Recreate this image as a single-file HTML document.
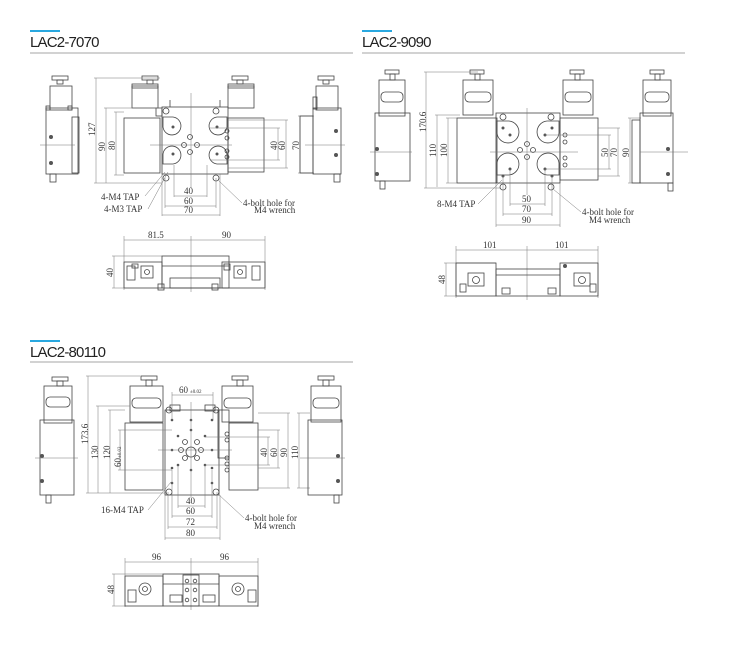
<!DOCTYPE html>
<html><head><meta charset="utf-8"><style>
html,body{margin:0;padding:0;background:#fff;width:750px;height:666px;overflow:hidden}
svg{display:block}
.t{font-family:"Liberation Sans",sans-serif;font-size:15px;fill:#222;letter-spacing:-0.8px}
.d{font-family:"Liberation Serif",serif;font-size:9px;fill:#333}
.s{fill:none;stroke:#444;stroke-width:0.8}
.k{fill:none;stroke:#777;stroke-width:0.5}
.h{fill:#555}
</style></head><body>
<svg width="750" height="666" viewBox="0 0 750 666" xmlns="http://www.w3.org/2000/svg">
<rect x="30" y="30" width="30" height="2" fill="#29a8e0"/>
<text class="t" x="30" y="47">LAC2-7070</text>
<line x1="30" y1="53" x2="353" y2="53" stroke="#888" stroke-width="0.8"/>
<rect x="362" y="30" width="30" height="2" fill="#29a8e0"/>
<text class="t" x="362" y="47">LAC2-9090</text>
<line x1="362" y1="53" x2="685" y2="53" stroke="#888" stroke-width="0.8"/>
<rect x="30" y="340" width="30" height="2" fill="#29a8e0"/>
<text class="t" x="30" y="357">LAC2-80110</text>
<line x1="30" y1="362" x2="353" y2="362" stroke="#888" stroke-width="0.8"/>

<!-- ============ 7070 ============ -->
<g>
<rect class="s" x="52" y="76" width="16" height="4"/><rect class="s" x="57" y="80" width="6" height="4"/>
<rect class="s" x="50" y="86" width="22" height="24"/><rect class="s" x="46" y="108" width="32" height="66"/>
<rect class="s" x="46" y="106" width="4" height="4"/><rect class="s" x="68" y="106" width="4" height="4"/>
<rect class="s" x="50" y="174" width="6" height="8"/><rect class="s" x="72" y="117" width="7" height="56"/>
<circle class="h" cx="51" cy="137" r="2"/><circle class="h" cx="51" cy="163" r="2"/>
<line class="k" x1="40" y1="145" x2="75" y2="145"/>
<rect class="s" x="142" y="76" width="16" height="4"/><rect class="s" x="147" y="80" width="6" height="4"/>
<rect class="s" x="132" y="86" width="26" height="22"/><rect class="s" x="132" y="84" width="26" height="4"/>
<rect class="s" x="232" y="76" width="16" height="4"/><rect class="s" x="237" y="80" width="6" height="4"/>
<rect class="s" x="228" y="86" width="26" height="22"/><rect class="s" x="228" y="84" width="26" height="4"/>
<rect class="s" x="124" y="118" width="36" height="55"/><rect class="s" x="228" y="118" width="36" height="54"/>
<rect class="s" x="156" y="108" width="6" height="8"/>
<rect class="s" x="162" y="107" width="66" height="67"/>
<line class="s" x1="170" y1="107" x2="170" y2="100"/><line class="s" x1="220" y1="107" x2="220" y2="100"/>
<path class="s" d="M163 117 L173 117 A9 9 0 1 1 163 127 Z"/>
<path class="s" d="M227 117 L217 117 A9 9 0 1 0 227 127 Z"/>
<path class="s" d="M163 164 L173 164 A9 9 0 1 0 163 154 Z"/>
<path class="s" d="M227 164 L217 164 A9 9 0 1 1 227 154 Z"/>
<circle class="h" cx="173" cy="127" r="1.5"/><circle class="h" cx="217" cy="127" r="1.5"/><circle class="h" cx="173" cy="154" r="1.5"/><circle class="h" cx="217" cy="154" r="1.5"/>
<circle class="s" cx="190" cy="137" r="2.5"/><circle class="s" cx="184" cy="145" r="2.5"/><circle class="s" cx="197" cy="145" r="2.5"/><circle class="s" cx="190" cy="152" r="2.5"/>
<circle class="s" cx="166" cy="111" r="3"/><circle class="s" cx="216" cy="111" r="3"/><circle class="s" cx="166" cy="178" r="3"/><circle class="s" cx="216" cy="178" r="3"/>
<circle class="s" cx="227" cy="131" r="2"/><circle class="s" cx="227" cy="138" r="2"/><circle class="s" cx="227" cy="151" r="2"/><circle class="s" cx="227" cy="157" r="2"/>
<line class="k" x1="191" y1="93" x2="191" y2="188"/><line class="k" x1="150" y1="145" x2="232" y2="145"/>
<line class="k" x1="96" y1="78" x2="96" y2="183"/><line class="k" x1="94" y1="78" x2="160" y2="78"/><line class="k" x1="94" y1="183" x2="162" y2="183"/>
<text class="d" transform="translate(95,136) rotate(-90)" >127</text>
<line class="k" x1="106" y1="108" x2="106" y2="183"/><line class="k" x1="104" y1="108" x2="162" y2="108"/>
<text class="d" transform="translate(105,151) rotate(-90)">90</text>
<line class="k" x1="116" y1="112" x2="116" y2="175"/><line class="k" x1="114" y1="112" x2="124" y2="112"/><line class="k" x1="114" y1="175" x2="124" y2="175"/>
<text class="d" transform="translate(115,150) rotate(-90)">80</text>
<line class="k" x1="210" y1="128" x2="280" y2="128"/><line class="k" x1="210" y1="160" x2="280" y2="160"/><line class="k" x1="278" y1="128" x2="278" y2="160"/>
<text class="d" transform="translate(277,150) rotate(-90)">40</text>
<line class="k" x1="228" y1="120" x2="288" y2="120"/><line class="k" x1="228" y1="168" x2="288" y2="168"/><line class="k" x1="286" y1="120" x2="286" y2="168"/>
<text class="d" transform="translate(285,150) rotate(-90)">60</text>
<line class="k" x1="300" y1="116" x2="300" y2="173"/><line class="k" x1="298" y1="116" x2="314" y2="116"/><line class="k" x1="298" y1="173" x2="314" y2="173"/>
<text class="d" transform="translate(299,150) rotate(-90)">70</text>
<rect class="s" x="318" y="76" width="16" height="4"/><rect class="s" x="323" y="80" width="6" height="4"/>
<rect class="s" x="316" y="86" width="22" height="24"/><rect class="s" x="313" y="108" width="28" height="66"/>
<rect class="s" x="313" y="97" width="4" height="12"/><rect class="s" x="334" y="174" width="6" height="8"/>
<rect class="s" x="300" y="116" width="13" height="57"/>
<circle class="h" cx="336" cy="131" r="2"/><circle class="h" cx="336" cy="155" r="2"/>
<line class="k" x1="305" y1="145" x2="345" y2="145"/>
<line class="k" x1="174" y1="165" x2="174" y2="197"/><line class="k" x1="207" y1="165" x2="207" y2="197"/>
<line class="k" x1="174" y1="196" x2="207" y2="196"/><text class="d" x="184" y="194">40</text>
<line class="k" x1="165" y1="178" x2="165" y2="208"/><line class="k" x1="216" y1="178" x2="216" y2="208"/>
<line class="k" x1="165" y1="206" x2="216" y2="206"/><text class="d" x="184" y="204">60</text>
<line class="k" x1="162" y1="174" x2="162" y2="216"/><line class="k" x1="220" y1="174" x2="220" y2="216"/>
<line class="k" x1="162" y1="215" x2="220" y2="215"/><text class="d" x="184" y="213">70</text>
<text class="d" x="101" y="200">4-M4 TAP</text><line class="k" x1="145" y1="196" x2="165" y2="172"/>
<text class="d" x="104" y="212">4-M3 TAP</text><line class="k" x1="148" y1="209" x2="168" y2="172"/>
<text class="d" x="243" y="206">4-bolt hole for</text><text class="d" x="254" y="213">M4 wrench</text>
<line class="k" x1="242" y1="203" x2="218" y2="180"/>
<line class="k" x1="124" y1="240" x2="265" y2="240"/><line class="k" x1="124" y1="236" x2="124" y2="290"/><line class="k" x1="265" y1="236" x2="265" y2="290"/><line class="k" x1="191" y1="236" x2="191" y2="292"/>
<text class="d" x="148" y="238">81.5</text><text class="d" x="222" y="238">90</text>
<line class="k" x1="114" y1="256" x2="114" y2="288"/><line class="k" x1="112" y1="256" x2="162" y2="256"/><line class="k" x1="112" y1="288" x2="124" y2="288"/>
<text class="d" transform="translate(113,277) rotate(-90)">40</text>
<rect class="s" x="124" y="262" width="38" height="26"/><rect class="s" x="222" y="262" width="43" height="26"/>
<rect class="s" x="162" y="256" width="67" height="32"/><line class="s" x1="162" y1="266" x2="229" y2="266"/>
<rect class="s" x="170" y="278" width="50" height="10"/>
<rect class="s" x="141" y="266" width="12" height="12"/><rect class="s" x="234" y="266" width="12" height="12"/>
<circle class="s" cx="147" cy="272" r="2.5"/><circle class="s" cx="240" cy="272" r="2.5"/>
<rect class="s" x="127" y="266" width="8" height="14"/><rect class="s" x="252" y="266" width="8" height="14"/>
<rect class="s" x="132" y="264" width="6" height="4"/><rect class="s" x="224" y="264" width="6" height="6"/>
<rect class="s" x="158" y="284" width="6" height="6"/><rect class="s" x="212" y="284" width="6" height="6"/>
</g>

<!-- ============ 9090 ============ -->
<g>
<rect class="s" x="385" y="70" width="14" height="4"/><rect class="s" x="390" y="74" width="5" height="6"/>
<rect class="s" x="379" y="80" width="26" height="36"/><rect class="s" x="381" y="92" width="22" height="10" rx="4"/>
<rect class="s" x="375" y="113" width="35" height="68"/><rect class="s" x="380" y="181" width="5" height="8"/>
<circle class="h" cx="377" cy="149" r="2"/><circle class="h" cx="377" cy="174" r="2"/>
<line class="k" x1="370" y1="152" x2="412" y2="152"/>
<rect class="s" x="470" y="70" width="14" height="4"/><rect class="s" x="475" y="74" width="5" height="6"/>
<rect class="s" x="463" y="80" width="30" height="35"/><rect class="s" x="465" y="92" width="26" height="10" rx="4"/>
<rect class="s" x="570" y="70" width="14" height="4"/><rect class="s" x="575" y="74" width="5" height="6"/>
<rect class="s" x="563" y="80" width="30" height="35"/><rect class="s" x="565" y="92" width="26" height="10" rx="4"/>
<rect class="s" x="457" y="118" width="40" height="65"/><rect class="s" x="560" y="118" width="38" height="62"/>
<rect class="s" x="496" y="113" width="64" height="70"/>
<path class="s" d="M497 121 L509 121 A11 11 0 1 1 497 133 Z"/>
<path class="s" d="M559 121 L547 121 A11 11 0 1 0 559 133 Z"/>
<path class="s" d="M497 175 L509 175 A11 11 0 1 0 497 163 Z"/>
<path class="s" d="M559 175 L547 175 A11 11 0 1 1 559 163 Z"/>
<circle class="h" cx="503" cy="128" r="1.5"/><circle class="h" cx="510" cy="135" r="1.5"/><circle class="h" cx="552" cy="128" r="1.5"/><circle class="h" cx="545" cy="135" r="1.5"/>
<circle class="h" cx="503" cy="176" r="1.5"/><circle class="h" cx="510" cy="169" r="1.5"/><circle class="h" cx="552" cy="176" r="1.5"/><circle class="h" cx="545" cy="169" r="1.5"/>
<circle class="s" cx="527" cy="144" r="2.5"/><circle class="s" cx="520" cy="150" r="2.5"/><circle class="s" cx="533" cy="150" r="2.5"/><circle class="s" cx="527" cy="157" r="2.5"/>
<circle class="s" cx="503" cy="117" r="3"/><circle class="s" cx="551" cy="117" r="3"/><circle class="s" cx="503" cy="187" r="3"/><circle class="s" cx="551" cy="187" r="3"/>
<circle class="s" cx="565" cy="135" r="2"/><circle class="s" cx="565" cy="142" r="2"/><circle class="s" cx="565" cy="158" r="2"/><circle class="s" cx="565" cy="165" r="2"/>
<line class="k" x1="527" y1="108" x2="527" y2="195"/><line class="k" x1="490" y1="152" x2="578" y2="152"/>
<line class="k" x1="426" y1="72" x2="426" y2="188"/><line class="k" x1="424" y1="72" x2="478" y2="72"/><line class="k" x1="424" y1="188" x2="500" y2="188"/>
<text class="d" transform="translate(426,132) rotate(-90)">170.6</text>
<line class="k" x1="437" y1="115" x2="437" y2="187"/><line class="k" x1="435" y1="115" x2="460" y2="115"/>
<text class="d" transform="translate(436,157) rotate(-90)">110</text>
<line class="k" x1="448" y1="118" x2="448" y2="183"/><line class="k" x1="446" y1="118" x2="457" y2="118"/><line class="k" x1="446" y1="183" x2="457" y2="183"/>
<text class="d" transform="translate(447,157) rotate(-90)">100</text>
<line class="k" x1="545" y1="135" x2="611" y2="135"/><line class="k" x1="545" y1="169" x2="611" y2="169"/><line class="k" x1="609" y1="135" x2="609" y2="169"/>
<text class="d" transform="translate(608,157) rotate(-90)">50</text>
<line class="k" x1="598" y1="128" x2="620" y2="128"/><line class="k" x1="598" y1="176" x2="620" y2="176"/><line class="k" x1="618" y1="128" x2="618" y2="176"/>
<text class="d" transform="translate(617,157) rotate(-90)">70</text>
<line class="k" x1="630" y1="118" x2="630" y2="183"/><line class="k" x1="628" y1="118" x2="641" y2="118"/><line class="k" x1="628" y1="183" x2="641" y2="183"/>
<text class="d" transform="translate(629,157) rotate(-90)">90</text>
<rect class="s" x="650" y="70" width="14" height="4"/><rect class="s" x="655" y="74" width="5" height="6"/>
<rect class="s" x="643" y="80" width="28" height="36"/><rect class="s" x="645" y="92" width="24" height="10" rx="4"/>
<rect class="s" x="640" y="113" width="33" height="70"/><rect class="s" x="668" y="183" width="5" height="8"/>
<rect class="s" x="632" y="120" width="8" height="63"/>
<circle class="h" cx="668" cy="149" r="2"/><circle class="h" cx="668" cy="174" r="2"/>
<line class="k" x1="640" y1="152" x2="688" y2="152"/>
<line class="k" x1="510" y1="169" x2="510" y2="206"/><line class="k" x1="545" y1="169" x2="545" y2="206"/>
<line class="k" x1="510" y1="204" x2="545" y2="204"/><text class="d" x="522" y="202">50</text>
<line class="k" x1="503" y1="176" x2="503" y2="216"/><line class="k" x1="552" y1="176" x2="552" y2="216"/>
<line class="k" x1="503" y1="214" x2="552" y2="214"/><text class="d" x="522" y="212">70</text>
<line class="k" x1="496" y1="183" x2="496" y2="227"/><line class="k" x1="560" y1="183" x2="560" y2="227"/>
<line class="k" x1="496" y1="225" x2="560" y2="225"/><text class="d" x="522" y="223">90</text>
<text class="d" x="437" y="207">8-M4 TAP</text><line class="k" x1="478" y1="204" x2="502" y2="180"/>
<text class="d" x="582" y="215">4-bolt hole for</text><text class="d" x="589" y="223">M4 wrench</text>
<line class="k" x1="581" y1="212" x2="553" y2="189"/>
<line class="k" x1="456" y1="250" x2="598" y2="250"/><line class="k" x1="456" y1="246" x2="456" y2="298"/><line class="k" x1="598" y1="246" x2="598" y2="298"/><line class="k" x1="527" y1="246" x2="527" y2="300"/>
<text class="d" x="483" y="248">101</text><text class="d" x="555" y="248">101</text>
<line class="k" x1="446" y1="263" x2="446" y2="296"/><line class="k" x1="444" y1="263" x2="496" y2="263"/><line class="k" x1="444" y1="296" x2="456" y2="296"/>
<text class="d" transform="translate(445,284) rotate(-90)">48</text>
<rect class="s" x="456" y="263" width="40" height="33"/><rect class="s" x="560" y="263" width="38" height="33"/>
<rect class="s" x="496" y="269" width="64" height="27"/><line class="s" x1="496" y1="275" x2="560" y2="275"/>
<rect class="s" x="468" y="273" width="16" height="13"/><circle class="s" cx="476" cy="280" r="3.5"/>
<rect class="s" x="574" y="273" width="16" height="13"/><circle class="s" cx="582" cy="280" r="3.5"/>
<rect class="s" x="502" y="288" width="8" height="6"/><rect class="s" x="548" y="288" width="8" height="6"/>
<circle class="h" cx="565" cy="266" r="2"/><rect class="s" x="460" y="284" width="6" height="8"/><rect class="s" x="590" y="284" width="6" height="8"/>
</g>

<!-- ============ 80110 ============ -->
<g>
<rect class="s" x="52" y="377" width="16" height="4"/><rect class="s" x="57" y="381" width="6" height="5"/>
<rect class="s" x="44" y="386" width="28" height="37"/><rect class="s" x="46" y="397" width="24" height="10" rx="4"/>
<rect class="s" x="40" y="420" width="34" height="75"/><rect class="s" x="46" y="495" width="5" height="8"/>
<circle class="h" cx="42" cy="456" r="2"/><circle class="h" cx="42" cy="481" r="2"/>
<line class="k" x1="35" y1="458" x2="78" y2="458"/>
<rect class="s" x="141" y="376" width="16" height="4"/><rect class="s" x="146" y="380" width="6" height="6"/>
<rect class="s" x="130" y="386" width="33" height="36"/><rect class="s" x="132" y="398" width="29" height="10" rx="4"/>
<rect class="s" x="232" y="376" width="16" height="4"/><rect class="s" x="237" y="380" width="6" height="6"/>
<rect class="s" x="222" y="386" width="31" height="36"/><rect class="s" x="224" y="398" width="27" height="10" rx="4"/>
<rect class="s" x="125" y="423" width="38" height="67"/><rect class="s" x="229" y="423" width="29" height="67"/>
<rect class="s" x="165" y="410" width="54" height="85"/>
<rect class="s" x="170" y="405" width="10" height="6"/><rect class="s" x="205" y="405" width="10" height="6"/>
<rect class="s" x="218" y="410" width="11" height="48"/>
<circle class="s" cx="169" cy="410" r="3"/><circle class="s" cx="216" cy="410" r="3"/><circle class="s" cx="169" cy="492" r="3"/><circle class="s" cx="216" cy="492" r="3"/>
<circle class="s" cx="191" cy="452" r="5"/>
<circle class="s" cx="185" cy="442" r="2.5"/><circle class="s" cx="197" cy="442" r="2.5"/><circle class="s" cx="185" cy="458" r="2.5"/><circle class="s" cx="197" cy="458" r="2.5"/><circle class="s" cx="181" cy="450" r="2.5"/><circle class="s" cx="201" cy="450" r="2.5"/>
<g class="h"><circle cx="172" cy="420" r="1.3"/><circle cx="191" cy="420" r="1.3"/><circle cx="212" cy="420" r="1.3"/><circle cx="172" cy="450" r="1.3"/><circle cx="212" cy="450" r="1.3"/><circle cx="172" cy="483" r="1.3"/><circle cx="191" cy="470" r="1.3"/><circle cx="212" cy="483" r="1.3"/><circle cx="178" cy="436" r="1.3"/><circle cx="205" cy="436" r="1.3"/><circle cx="178" cy="465" r="1.3"/><circle cx="205" cy="465" r="1.3"/><circle cx="191" cy="430" r="1.3"/><circle cx="172" cy="468" r="1.3"/><circle cx="212" cy="468" r="1.3"/></g>
<circle class="s" cx="227" cy="434" r="2"/><circle class="s" cx="227" cy="440" r="2"/><circle class="s" cx="227" cy="458" r="2"/><circle class="s" cx="227" cy="464" r="2"/><circle class="s" cx="227" cy="470" r="2"/>
<line class="k" x1="191" y1="402" x2="191" y2="498"/><line class="k" x1="158" y1="450" x2="232" y2="450"/>
<line class="k" x1="172" y1="395" x2="213" y2="395"/><line class="k" x1="172" y1="392" x2="172" y2="420"/><line class="k" x1="213" y1="392" x2="213" y2="420"/>
<text class="d" x="179" y="393">60</text><text class="d" x="190" y="393" style="font-size:5px">±0.02</text>
<line class="k" x1="88" y1="376" x2="88" y2="493"/><line class="k" x1="86" y1="376" x2="140" y2="376"/><line class="k" x1="86" y1="493" x2="167" y2="493"/>
<text class="d" transform="translate(88,444) rotate(-90)">173.6</text>
<line class="k" x1="98" y1="406" x2="98" y2="493"/><line class="k" x1="96" y1="406" x2="130" y2="406"/>
<text class="d" transform="translate(98,459) rotate(-90)">130</text>
<line class="k" x1="110" y1="410" x2="110" y2="493"/><line class="k" x1="108" y1="410" x2="125" y2="410"/>
<text class="d" transform="translate(110,459) rotate(-90)">120</text>
<line class="k" x1="120" y1="430" x2="120" y2="470"/><line class="k" x1="118" y1="430" x2="172" y2="430"/><line class="k" x1="118" y1="470" x2="172" y2="470"/>
<text class="d" transform="translate(121,467) rotate(-90)">60<tspan style="font-size:5px">±0.02</tspan></text>
<line class="k" x1="205" y1="437" x2="270" y2="437"/><line class="k" x1="205" y1="465" x2="270" y2="465"/><line class="k" x1="268" y1="437" x2="268" y2="465"/>
<text class="d" transform="translate(267,457) rotate(-90)">40</text>
<line class="k" x1="258" y1="430" x2="280" y2="430"/><line class="k" x1="258" y1="468" x2="280" y2="468"/><line class="k" x1="278" y1="430" x2="278" y2="468"/>
<text class="d" transform="translate(277,457) rotate(-90)">60</text>
<line class="k" x1="258" y1="413" x2="290" y2="413"/><line class="k" x1="258" y1="488" x2="290" y2="488"/><line class="k" x1="288" y1="413" x2="288" y2="488"/>
<text class="d" transform="translate(287,457) rotate(-90)">90</text>
<line class="k" x1="299" y1="413" x2="299" y2="488"/><line class="k" x1="297" y1="413" x2="310" y2="413"/><line class="k" x1="297" y1="488" x2="310" y2="488"/>
<text class="d" transform="translate(298,459) rotate(-90)">110</text>
<rect class="s" x="318" y="376" width="16" height="4"/><rect class="s" x="323" y="380" width="6" height="6"/>
<rect class="s" x="311" y="386" width="30" height="36"/><rect class="s" x="313" y="398" width="26" height="10" rx="4"/>
<rect class="s" x="308" y="420" width="34" height="75"/><rect class="s" x="334" y="495" width="5" height="8"/>
<circle class="h" cx="338" cy="456" r="2"/><circle class="h" cx="338" cy="481" r="2"/>
<line class="k" x1="300" y1="458" x2="345" y2="458"/>
<line class="k" x1="178" y1="465" x2="178" y2="508"/><line class="k" x1="205" y1="465" x2="205" y2="508"/>
<line class="k" x1="178" y1="506" x2="205" y2="506"/><text class="d" x="186" y="504">40</text>
<line class="k" x1="172" y1="470" x2="172" y2="518"/><line class="k" x1="212" y1="470" x2="212" y2="518"/>
<line class="k" x1="172" y1="516" x2="212" y2="516"/><text class="d" x="186" y="514">60</text>
<line class="k" x1="168" y1="492" x2="168" y2="529"/><line class="k" x1="217" y1="492" x2="217" y2="529"/>
<line class="k" x1="168" y1="527" x2="217" y2="527"/><text class="d" x="186" y="525">72</text>
<line class="k" x1="165" y1="495" x2="165" y2="540"/><line class="k" x1="220" y1="495" x2="220" y2="540"/>
<line class="k" x1="165" y1="538" x2="220" y2="538"/><text class="d" x="186" y="536">80</text>
<text class="d" x="101" y="513">16-M4 TAP</text><line class="k" x1="148" y1="510" x2="171" y2="482"/>
<text class="d" x="245" y="521">4-bolt hole for</text><text class="d" x="254" y="529">M4 wrench</text>
<line class="k" x1="244" y1="518" x2="218" y2="494"/>
<line class="k" x1="125" y1="562" x2="258" y2="562"/><line class="k" x1="125" y1="558" x2="125" y2="607"/><line class="k" x1="258" y1="558" x2="258" y2="607"/><line class="k" x1="191" y1="558" x2="191" y2="610"/>
<text class="d" x="152" y="560">96</text><text class="d" x="220" y="560">96</text>
<line class="k" x1="114" y1="574" x2="114" y2="606"/><line class="k" x1="112" y1="574" x2="163" y2="574"/><line class="k" x1="112" y1="606" x2="125" y2="606"/>
<text class="d" transform="translate(114,594) rotate(-90)">48</text>
<rect class="s" x="125" y="576" width="38" height="30"/><rect class="s" x="219" y="576" width="39" height="30"/>
<rect class="s" x="163" y="574" width="56" height="32"/><line class="s" x1="163" y1="584" x2="219" y2="584"/>
<rect class="s" x="183" y="575" width="16" height="31"/>
<circle class="s" cx="187" cy="581" r="1.8"/><circle class="s" cx="195" cy="581" r="1.8"/><circle class="s" cx="187" cy="590" r="1.8"/><circle class="s" cx="195" cy="590" r="1.8"/><circle class="s" cx="187" cy="600" r="1.8"/><circle class="s" cx="195" cy="600" r="1.8"/>
<circle class="s" cx="145" cy="589" r="6"/><circle class="s" cx="145" cy="589" r="2.5"/>
<circle class="s" cx="238" cy="589" r="6"/><circle class="s" cx="238" cy="589" r="2.5"/>
<rect class="s" x="170" y="595" width="12" height="7"/><rect class="s" x="203" y="595" width="12" height="7"/>
<rect class="s" x="128" y="590" width="8" height="12"/><rect class="s" x="248" y="590" width="8" height="12"/>
</g>
</svg>
</body></html>
